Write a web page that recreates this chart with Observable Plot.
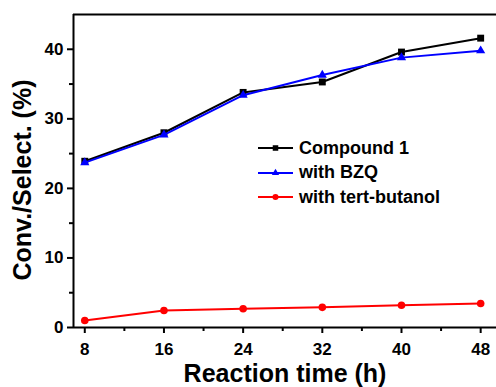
<!DOCTYPE html>
<html>
<head>
<meta charset="utf-8">
<script src="https://cdn.jsdelivr.net/npm/d3@7"></script>
<script src="https://cdn.jsdelivr.net/npm/@observablehq/plot@0.6"></script>
<style>
  body { margin: 0; background: #fff; }
  #wrap { position: relative; width: 496px; height: 387px; overflow: hidden; font-family: "Liberation Sans", Arial, sans-serif; }
  #legend { position: absolute; left: 258px; top: 136px; font-weight: bold; font-size: 18px; color: #000; }
  .row { display: flex; align-items: center; height: 24.5px; white-space: nowrap; }
  .row svg { margin-right: 5px; }
</style>
</head>
<body>
<div id="wrap"></div>
<script>
const hours = [8, 16, 24, 32, 40, 48];
const compound1 = [23.9, 28.0, 33.8, 35.3, 39.6, 41.6];
const withBZQ = [23.7, 27.7, 33.4, 36.3, 38.8, 39.8];
const withTertButanol = [1.0, 2.45, 2.7, 2.9, 3.2, 3.45];
const seriesNames = ["Compound 1", "with BZQ", "with tert-butanol"];
const seriesColors = ["#000000", "#0000ff", "#ff0000"];
const seriesSymbols = ["square", "triangle", "circle"];
const xTicks = [8, 16, 24, 32, 40, 48];
const xMinorTicks = [12, 20, 28, 36, 44];
const yTicks = [0, 10, 20, 30, 40];
const yMinorTicks = [5, 15, 25, 35];
const xLabel = "Reaction time (h)";
const yLabel = "Conv./Select. (%)";

const seriesValues = [compound1, withBZQ, withTertButanol];
const rows = [];
seriesNames.forEach((name, i) => {
  hours.forEach((h, j) => rows.push({series: name, hour: h, value: seriesValues[i][j]}));
});
const markerR = {"square": 3.9, "triangle": 3.4, "circle": 3.8};

const marks = [
  Plot.ruleY([45], {stroke: "#000", strokeWidth: 2}),
  Plot.axisX({ticks: xTicks, tickSize: 6, tickPadding: 9, fontSize: 17, strokeWidth: 2, label: null}),
  Plot.axisX({ticks: xMinorTicks, tickSize: 4, tickFormat: () => "", strokeWidth: 2, label: null}),
  Plot.axisY({ticks: yTicks, tickSize: 6, tickPadding: 4, fontSize: 17, strokeWidth: 2, label: null}),
  Plot.axisY({ticks: yMinorTicks, tickSize: 4, tickFormat: () => "", strokeWidth: 2, label: null}),
  Plot.ruleY([0], {stroke: "#000", strokeWidth: 2}),
  Plot.ruleX([6.86], {stroke: "#000", strokeWidth: 2}),
  Plot.text([xLabel], {frameAnchor: "bottom", textAnchor: "middle", dy: 54, lineAnchor: "bottom", fontSize: 25, fontWeight: "bold", text: d => d}),
  Plot.text([yLabel], {frameAnchor: "left", textAnchor: "middle", rotate: -90, dx: -51, dy: 9, fontSize: 25, fontWeight: "bold", text: d => d})
];
seriesNames.forEach((name, i) => {
  const data = rows.filter(r => r.series === name);
  marks.push(Plot.line(data, {x: "hour", y: "value", stroke: seriesColors[i], strokeWidth: 2}));
  marks.push(Plot.dot(data, {x: "hour", y: "value", fill: seriesColors[i], stroke: "none", symbol: seriesSymbols[i], r: markerR[seriesSymbols[i]]}));
});

const chart = Plot.plot({
  width: 496,
  height: 387,
  marginLeft: 73,
  marginTop: 14,
  marginRight: 0,
  marginBottom: 60,
  x: {domain: [6.86, 49.6]},
  y: {domain: [0, 45]},
  style: {fontFamily: "'Liberation Sans', Arial, sans-serif", fontWeight: "bold", color: "#000", background: "#fff", overflow: "visible"},
  marks
});
const wrap = document.getElementById("wrap");
wrap.appendChild(chart);

// legend
const legend = document.createElement("div");
legend.id = "legend";
seriesNames.forEach((name, i) => {
  const row = document.createElement("div");
  row.className = "row";
  const s = d3.create("svg").attr("width", 36).attr("height", 12);
  s.append("line").attr("x1", 0).attr("x2", 35).attr("y1", 6).attr("y2", 6).attr("stroke", seriesColors[i]).attr("stroke-width", 2);
  const sym = {square: d3.symbolSquare, triangle: d3.symbolTriangle, circle: d3.symbolCircle}[seriesSymbols[i]];
  const r = markerR[seriesSymbols[i]] * 0.8;
  s.append("path").attr("transform", "translate(17.5,6)").attr("d", d3.symbol(sym, Math.PI * r * r)()).attr("fill", seriesColors[i]);
  row.appendChild(s.node());
  const t = document.createElement("span");
  t.textContent = name;
  row.appendChild(t);
  legend.appendChild(row);
});
wrap.appendChild(legend);
</script>
</body>
</html>
